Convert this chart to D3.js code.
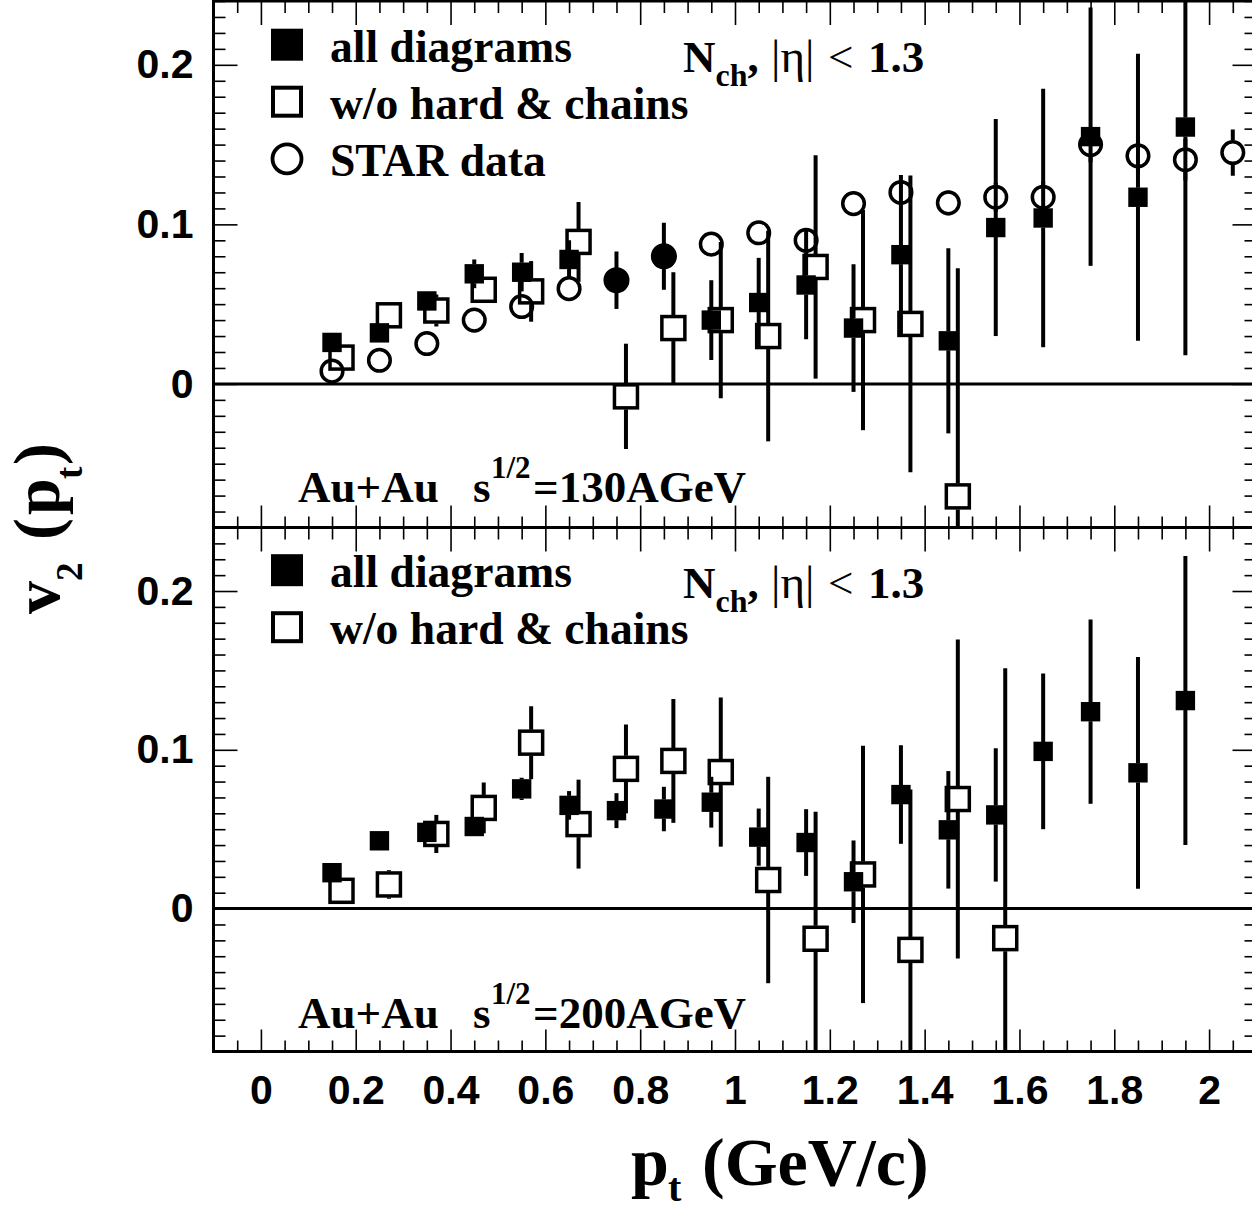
<!DOCTYPE html>
<html>
<head>
<meta charset="utf-8">
<script src="https://cdn.jsdelivr.net/npm/d3@7"></script>
<style>
  html, body { margin: 0; padding: 0; background: #fff; }
  svg { display: block; }
</style>
</head>
<body>
<svg id="chart" width="1252" height="1210"></svg>
<script>
// ---------------- DATA ----------------
const ptModel = [0.15,0.25,0.35,0.45,0.55,0.65,0.75,0.85,0.95,1.05,1.15,1.25,1.35,1.45,1.55,1.65,1.75,1.85,1.95];
const ptWoTop = [0.17,0.27,0.37,0.47,0.57,0.67,0.77,0.87,0.97,1.07,1.17,1.27,1.37,1.47];
const ptWoBot = [0.17,0.27,0.37,0.47,0.57,0.67,0.77,0.87,0.97,1.07,1.17,1.27,1.37,1.47,1.57];
const ptStar  = [0.15,0.25,0.35,0.45,0.55,0.65,0.75,0.85,0.95,1.05,1.15,1.25,1.35,1.45,1.55,1.65,1.75,1.85,1.95,2.05];

// Au+Au 130 AGeV (top panel)
const v2AllTop  = [0.026,0.032,0.052,0.069,0.070,0.078,0.065,0.080,0.040,0.051,0.062,0.035,0.081,0.027,0.098,0.104,0.155,0.117,0.161];
const errAllTop = [0.003,0.003,0.006,0.009,0.012,0.012,0.018,0.021,0.025,0.028,0.034,0.040,0.050,0.058,0.068,0.081,0.081,0.090,0.143];
const v2WoTop   = [0.0165,0.043,0.046,0.059,0.058,0.089,-0.0078,0.035,0.040,0.030,0.0733,0.040,0.0376,-0.0705];
const errWoTop  = [0.003,0.003,0.010,0.006,0.019,0.025,0.033,0.035,0.049,0.066,0.070,0.069,0.093,0.143];
const v2Star    = [0.008,0.0148,0.0253,0.040,0.0485,0.0597,0.065,0.080,0.0876,0.0947,0.090,0.113,0.120,0.1135,0.117,0.117,0.150,0.143,0.1405,0.145];
const errStar   = [0.001,0.001,0.002,0.002,0.003,0.003,0.004,0.004,0.005,0.005,0.006,0.006,0.007,0.008,0.009,0.010,0.011,0.012,0.013,0.0145];

// Au+Au 200 AGeV (bottom panel)
const v2AllBot  = [0.0226,0.0427,0.048,0.0517,0.0754,0.065,0.0617,0.0627,0.067,0.045,0.0416,0.0169,0.0718,0.0496,0.059,0.099,0.124,0.0855,0.131];
const errAllBot = [0.003,0.003,0.006,0.004,0.007,0.009,0.011,0.014,0.016,0.018,0.021,0.026,0.031,0.037,0.042,0.049,0.058,0.073,0.091];
const v2WoBot   = [0.0112,0.0152,0.047,0.0634,0.1045,0.0532,0.088,0.093,0.086,0.018,-0.019,0.0215,-0.026,0.069,-0.0186];
const errWoBot  = [0.002,0.009,0.012,0.016,0.023,0.028,0.028,0.039,0.047,0.065,0.080,0.081,0.101,0.1005,0.170];

const xMajorTicks = [0,0.2,0.4,0.6,0.8,1.0,1.2,1.4,1.6,1.8,2.0];
const xTickLabels = ["0","0.2","0.4","0.6","0.8","1","1.2","1.4","1.6","1.8","2"];
const yMajorTicks = [0,0.1,0.2];
const yTickLabels = ["0","0.1","0.2"];
const legendTop = ["all diagrams","w/o hard & chains","STAR data"];
const legendBot = ["all diagrams","w/o hard & chains"];
const energies  = ["130","200"];

// ---------------- DRAWING ----------------
const svg = d3.select("#chart");
const SERIF = "'Liberation Serif','Times New Roman',Times,serif";
const SANS  = "'Liberation Sans',Arial,Helvetica,sans-serif";

const x = d3.scaleLinear().domain([-0.1, 2.1]).range([213.5, 1256.5]);
const panels = [
  { top: 1,     bottom: 527.5,  off: 0,     all: [ptModel, v2AllTop, errAllTop], wo: [ptWoTop, v2WoTop, errWoTop], star: [ptStar, v2Star, errStar], legend: legendTop, energy: energies[0], labels: false },
  { top: 527.5, bottom: 1051.5, off: 525.5, all: [ptModel, v2AllBot, errAllBot], wo: [ptWoBot, v2WoBot, errWoBot], star: null, legend: legendBot, energy: energies[1], labels: true }
];

const xMinor = d3.range(-2, 43).filter(i => i % 4 !== 0).map(i => +(i * 0.05).toFixed(2));
const yMinor = d3.range(-9, 25).filter(i => i % 10 !== 0).map(i => i / 100);

function styleAxis(g, size) {
  g.select(".domain").remove();
  g.selectAll(".tick line").attr("stroke", "#000").attr("stroke-width", 1.6);
  g.selectAll("text").attr("font-family", SANS).attr("font-weight", "bold").attr("font-size", size).attr("fill", "#000");
}

function toPoints(arr) {
  const [xs, vs, es] = arr;
  return xs.map((p, i) => ({ p, v: vs[i], e: es[i] }));
}

panels.forEach((P, pi) => {
  const y = d3.scaleLinear().domain([-0.09, 0.24]).range([P.bottom, P.top]);
  const g = svg.append("g");

  const clipId = "clip" + pi;
  svg.append("clipPath").attr("id", clipId)
    .append("rect").attr("x", x.range()[0]).attr("y", P.top)
    .attr("width", x.range()[1] - x.range()[0]).attr("height", P.bottom - P.top);

  // --- axes (ticks inward) ---
  const fmtY = d => yTickLabels[yMajorTicks.indexOf(d)];
  const fmtX = d => xTickLabels[xMajorTicks.indexOf(d)];

  g.append("g").attr("transform", `translate(${x.range()[0]},0)`)
    .call(d3.axisLeft(y).tickValues(yMajorTicks).tickSize(-24).tickPadding(20).tickFormat(fmtY))
    .call(a => styleAxis(a, 41));
  g.append("g").attr("transform", `translate(${x.range()[0]},0)`)
    .call(d3.axisLeft(y).tickValues(yMinor).tickSize(-12).tickFormat(""))
    .call(a => styleAxis(a, 41));
  g.append("g").attr("transform", `translate(${x.range()[1]},0)`)
    .call(d3.axisRight(y).tickValues(yMajorTicks).tickSize(-24).tickFormat(""))
    .call(a => styleAxis(a, 41));
  g.append("g").attr("transform", `translate(${x.range()[1]},0)`)
    .call(d3.axisRight(y).tickValues(yMinor).tickSize(-12).tickFormat(""))
    .call(a => styleAxis(a, 41));

  g.append("g").attr("transform", `translate(0,${P.top})`)
    .call(d3.axisTop(x).tickValues(xMajorTicks).tickSize(-24).tickFormat(""))
    .call(a => styleAxis(a, 41));
  g.append("g").attr("transform", `translate(0,${P.top})`)
    .call(d3.axisTop(x).tickValues(xMinor).tickSize(-12).tickFormat(""))
    .call(a => styleAxis(a, 41));
  g.append("g").attr("transform", `translate(0,${P.bottom})`)
    .call(d3.axisBottom(x).tickValues(xMajorTicks).tickSize(-22).tickPadding(23.5)
      .tickFormat(P.labels ? fmtX : ""))
    .call(a => styleAxis(a, 41));
  g.append("g").attr("transform", `translate(0,${P.bottom})`)
    .call(d3.axisBottom(x).tickValues(xMinor).tickSize(-11).tickFormat(""))
    .call(a => styleAxis(a, 41));

  // frame
  g.append("rect").attr("x", x.range()[0]).attr("y", P.top)
    .attr("width", x.range()[1] - x.range()[0]).attr("height", P.bottom - P.top)
    .attr("fill", "none").attr("stroke", "#000").attr("stroke-width", 3);

  // zero line
  g.append("line").attr("x1", x.range()[0]).attr("x2", x.range()[1])
    .attr("y1", y(0)).attr("y2", y(0)).attr("stroke", "#000").attr("stroke-width", 3);

  const data = g.append("g").attr("clip-path", `url(#${clipId})`);
  const starPts = P.star ? toPoints(P.star) : [];

  function drawSeries(pts, kind) {
    const half = kind === "filled" ? 9.5 : (kind === "open" ? 13 : 12.5);
    const s = data.append("g");
    // error bars with a gap where the marker sits
    s.selectAll("line.up").data(pts.filter(d => y(d.v + d.e) < y(d.v) - half)).join("line")
      .attr("x1", d => x(d.p)).attr("x2", d => x(d.p))
      .attr("y1", d => y(d.v + d.e)).attr("y2", d => y(d.v) - half)
      .attr("stroke", "#000").attr("stroke-width", 4);
    s.selectAll("line.dn").data(pts.filter(d => y(d.v - d.e) > y(d.v) + half)).join("line")
      .attr("x1", d => x(d.p)).attr("x2", d => x(d.p))
      .attr("y1", d => y(d.v) + half).attr("y2", d => y(d.v - d.e))
      .attr("stroke", "#000").attr("stroke-width", 4);

    if (kind === "filled") {
      const coincide = d => starPts.some(s2 => Math.abs(s2.p - d.p) < 1e-6 && Math.abs(s2.v - d.v) < 0.002);
      s.selectAll("rect").data(pts.filter(d => !coincide(d))).join("rect")
        .attr("x", d => x(d.p) - 9.7).attr("y", d => y(d.v) - 9.7)
        .attr("width", 19.4).attr("height", 19.4).attr("fill", "#000");
      s.selectAll("circle").data(pts.filter(coincide)).join("circle")
        .attr("cx", d => x(d.p)).attr("cy", d => y(d.v)).attr("r", 13).attr("fill", "#000");
    } else if (kind === "open") {
      s.selectAll("rect").data(pts).join("rect")
        .attr("x", d => x(d.p) - 11.5).attr("y", d => y(d.v) - 11.5)
        .attr("width", 23).attr("height", 23)
        .attr("fill", "none").attr("stroke", "#000").attr("stroke-width", 3.5);
    } else {
      s.selectAll("circle").data(pts).join("circle")
        .attr("cx", d => x(d.p)).attr("cy", d => y(d.v)).attr("r", 10.8)
        .attr("fill", "none").attr("stroke", "#000").attr("stroke-width", 3.5);
    }
  }

  drawSeries(toPoints(P.all), "filled");
  drawSeries(toPoints(P.wo), "open");
  if (P.star) drawSeries(starPts, "circle");

  // --- legend ---
  const lg = g.append("g");
  const legY = [44.7, 101.7, 158.8];
  P.legend.forEach((label, i) => {
    const cy = legY[i] + P.off, cx = 287;
    if (i === 0) {
      lg.append("rect").attr("x", cx - 16).attr("y", cy - 16).attr("width", 32).attr("height", 32).attr("fill", "#000");
    } else if (i === 1) {
      lg.append("rect").attr("x", cx - 14).attr("y", cy - 14).attr("width", 28).attr("height", 28)
        .attr("fill", "none").attr("stroke", "#000").attr("stroke-width", 4);
    } else {
      lg.append("circle").attr("cx", cx).attr("cy", cy).attr("r", 14.5)
        .attr("fill", "none").attr("stroke", "#000").attr("stroke-width", 3.8);
    }
    lg.append("text").attr("x", 330).attr("y", cy + 17.2)
      .attr("font-family", SERIF).attr("font-weight", "bold").attr("font-size", 45.6)
      .attr("fill", "#000").text(label);
  });

  // --- N_ch, |eta| < 1.3 ---
  const nt = g.append("text").attr("y", 72 + P.off)
    .attr("font-family", SERIF).attr("font-weight", "bold").attr("font-size", 45).attr("fill", "#000");
  nt.append("tspan").attr("x", 683).text("N");
  nt.append("tspan").attr("font-size", 32).attr("dy", 14).text("ch");
  nt.append("tspan").attr("dy", -14).text(",");
  nt.append("tspan").attr("x", 771).attr("font-weight", "normal").attr("font-size", 47).text("|η|");
  nt.append("tspan").attr("x", 828).attr("font-weight", "normal").text("<");
  nt.append("tspan").attr("x", 868).text("1.3");

  // --- Au+Au s^{1/2}=... ---
  const at = g.append("text").attr("y", 502 + P.off)
    .attr("font-family", SERIF).attr("font-weight", "bold").attr("font-size", 45).attr("fill", "#000");
  at.append("tspan").attr("x", 298).text("Au+Au");
  at.append("tspan").attr("x", 473).text("s");
  at.append("tspan").attr("x", 491).attr("dy", -24).attr("font-size", 31).text("1/2");
  at.append("tspan").attr("x", 533).attr("dy", 24).text("=" + P.energy + "AGeV");
});

// --- axis titles ---
const xt = svg.append("text").attr("y", 1185)
  .attr("font-family", SERIF).attr("font-weight", "bold").attr("font-size", 68).attr("fill", "#000");
xt.append("tspan").attr("x", 631).text("p");
xt.append("tspan").attr("x", 668).attr("dy", 16).attr("font-size", 40).text("t");
xt.append("tspan").attr("x", 702).attr("dy", -16).text("(GeV/c)");

const yt = svg.append("text").attr("transform", "translate(59,614) rotate(-90)")
  .attr("font-family", SERIF).attr("font-weight", "bold").attr("font-size", 66).attr("fill", "#000");
yt.append("tspan").attr("x", 0).text("v");
yt.append("tspan").attr("x", 33).attr("dy", 23).attr("font-size", 37).text("2");
yt.append("tspan").attr("x", 74).attr("dy", -23).text("(");
yt.append("tspan").attr("x", 99).text("p");
yt.append("tspan").attr("x", 135).attr("dy", 23).attr("font-size", 37).text("t");
yt.append("tspan").attr("x", 149).attr("dy", -23).text(")");
</script>
</body>
</html>
